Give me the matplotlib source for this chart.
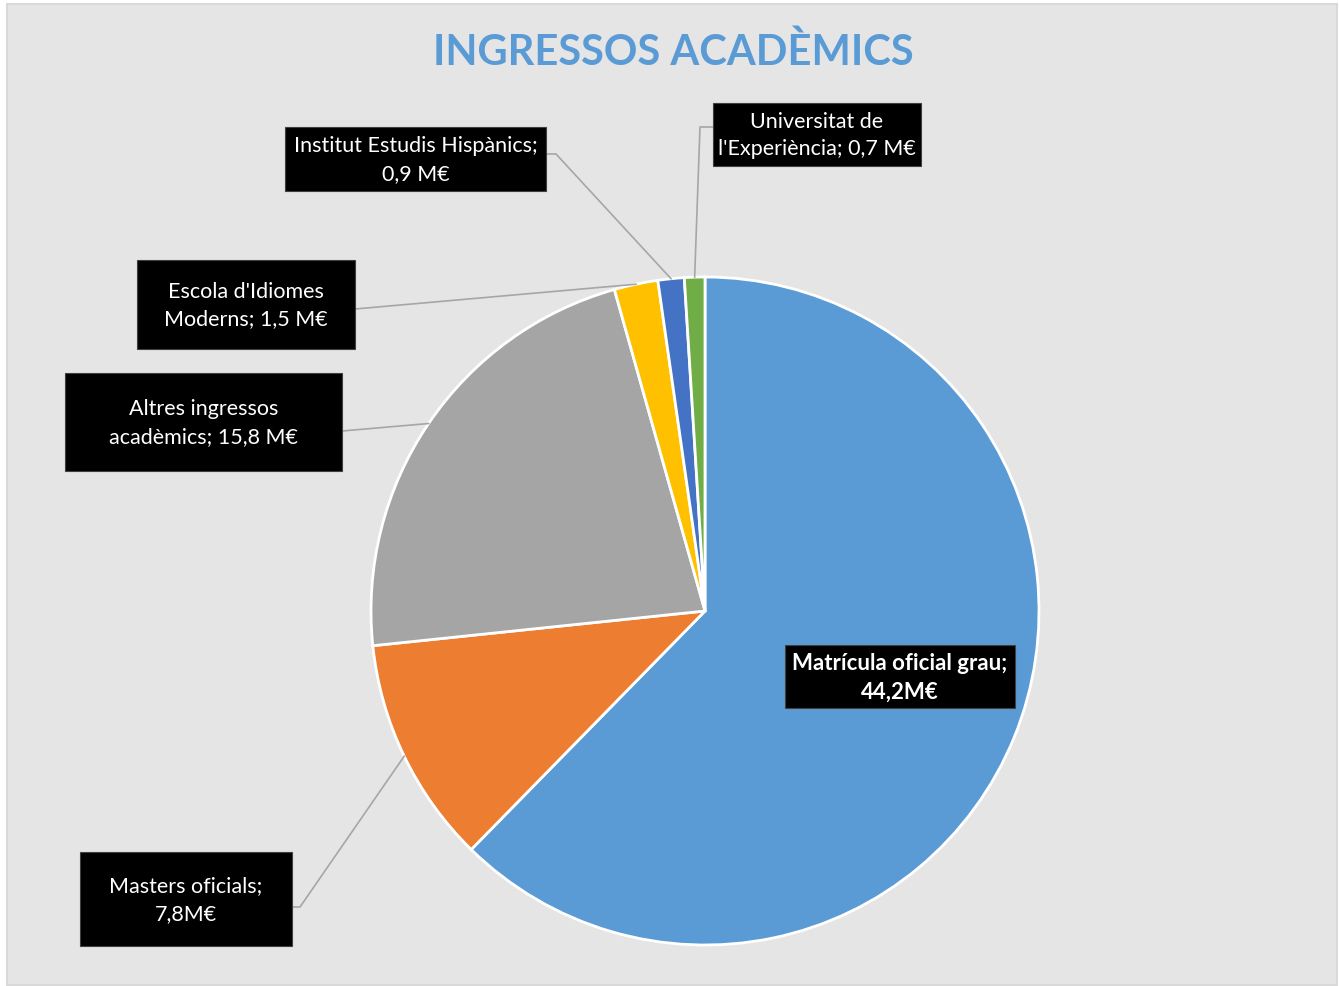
import matplotlib.pyplot as plt
from matplotlib.patches import Rectangle
from matplotlib.lines import Line2D
import numpy as np

plt.rcParams['font.family'] = ['Lato', 'DejaVu Sans']

# data
labels = ["Matrícula oficial grau;\n44,2M€", "Masters oficials;\n7,8M€",
          "Altres ingressos\nacadèmics; 15,8 M€", "Escola d'Idiomes\nModerns; 1,5 M€",
          "Institut Estudis Hispànics;\n0,9 M€", "Universitat de\nl'Experiència; 0,7 M€"]
values = [44.2, 7.8, 15.8, 1.5, 0.9, 0.7]
colors = ["#5B9BD5", "#ED7D31", "#A5A5A5", "#FFC000", "#4472C4", "#70AD47"]

W, H = 1339, 987
fig = plt.figure(figsize=(W / 100, H / 100), dpi=100, facecolor="white")

def fx(x):
    return x / W

def fy(y):
    return 1 - y / H

# chart area background
fig.patches.append(Rectangle((fx(7), fy(986)), fx(1337) - fx(7), fy(5) - fy(986),
                             transform=fig.transFigure, facecolor="#E5E5E5",
                             edgecolor="#D9D9D9", lw=1.5, zorder=-5))

fig.text(fx(673), fy(52), "INGRESSOS ACADÈMICS", ha="center", va="center",
         fontsize=30, fontweight="bold", color="#5B9BD5")

# pie axes: centre (705, 612), radius 334 px
cx, cy, r = 705, 612, 334
ax = fig.add_axes([fx(cx - r), fy(cy + r), 2 * r / W, 2 * r / H])
ax.set_zorder(1)
wedges, _ = ax.pie(values, colors=colors, startangle=90, counterclock=False,
                   wedgeprops=dict(edgecolor="white", linewidth=2))
ax.set_xlim(-1, 1)
ax.set_ylim(-1, 1)
ax.axis("off")
for w in wedges:
    w.set_clip_on(False)

# label boxes (left, top, right, bottom) in pixels and leader anchor/elbow
boxes = [(785, 646, 1015, 709), (80, 853, 292, 947), (65, 374, 342, 472),
         (137, 261, 355, 350), (285, 128, 546, 192), (713, 104, 921, 167)]
leaders = [None,
           [(292, 908), (300, 908)],
           [(342, 432)],
           [(355, 310)],
           [(546, 155), (556, 155)],
           [(713, 128), (700, 128)]]

for i, (lab, box) in enumerate(zip(labels, boxes)):
    x0, y0, x1, y1 = box
    fig.patches.append(Rectangle((fx(x0), fy(y1)), fx(x1) - fx(x0), fy(y0) - fy(y1),
                                 transform=fig.transFigure, facecolor="black",
                                 edgecolor="#404040", lw=0.8, zorder=3))
    fig.text(fx((x0 + x1) / 2), fy((y0 + y1) / 2), lab, ha="center", va="center",
             color="white", fontsize=16 if i == 0 else 15.5, linespacing=1.45,
             fontweight="bold" if i == 0 else "normal", zorder=4)
    if leaders[i] is None:
        continue
    w = wedges[i]
    mid = np.deg2rad((w.theta1 + w.theta2) / 2)
    end = ax.transData.transform((np.cos(mid), np.sin(mid)))
    pts = [(x, H - y) for x, y in leaders[i]] + [tuple(end)]
    xs, ys = zip(*pts)
    fig.add_artist(Line2D(xs, ys, color="#A6A6A6", lw=1.2, transform=None, zorder=2))

fig.savefig("out.png", dpi=100, facecolor="white")
